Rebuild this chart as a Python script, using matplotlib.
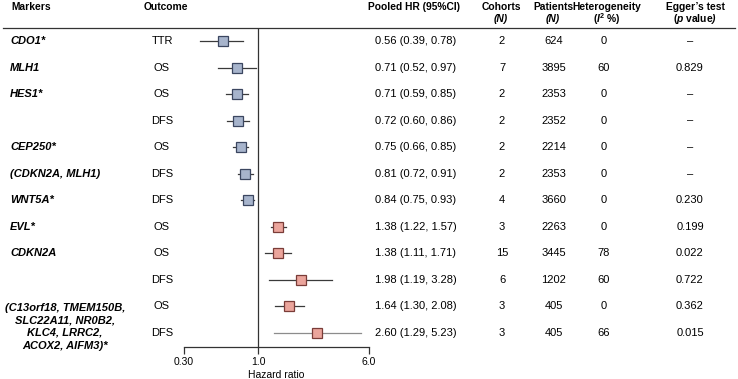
import numpy as np
import matplotlib
matplotlib.use('Agg')
import matplotlib.pyplot as plt
from matplotlib.lines import Line2D
from matplotlib.transforms import blended_transform_factory

plt.rcParams['font.family'] = ['Liberation Sans', 'DejaVu Sans']
plt.rcParams['mathtext.fontset'] = 'custom'
plt.rcParams['mathtext.rm'] = 'Liberation Sans'
plt.rcParams['mathtext.it'] = 'Liberation Sans:italic'
plt.rcParams['mathtext.bf'] = 'Liberation Sans:bold'
plt.rcParams['mathtext.bfit'] = 'Liberation Sans:italic:bold'

markers = ['CDO1*', 'MLH1', 'HES1*', '', 'CEP250*', '(CDKN2A, MLH1)', 'WNT5A*', 'EVL*',
           'CDKN2A', '', '(C13orf18, TMEM150B,\nSLC22A11, NR0B2,\nKLC4, LRRC2,\nACOX2, AIFM3)*', '']
outcomes = ['TTR', 'OS', 'OS', 'DFS', 'OS', 'DFS', 'DFS', 'OS', 'OS', 'DFS', 'OS', 'DFS']
hr = [0.56, 0.71, 0.71, 0.72, 0.75, 0.81, 0.84, 1.38, 1.38, 1.98, 1.64, 2.60]
lo = [0.39, 0.52, 0.59, 0.60, 0.66, 0.72, 0.75, 1.22, 1.11, 1.19, 1.30, 1.29]
hi = [0.78, 0.97, 0.85, 0.86, 0.85, 0.91, 0.93, 1.57, 1.71, 3.28, 2.08, 5.23]
cohorts = [2, 7, 2, 2, 2, 2, 4, 3, 15, 6, 3, 3]
patients = [624, 3895, 2353, 2352, 2214, 2353, 3660, 2263, 3445, 1202, 405, 405]
i2 = [0, 60, 0, 0, 0, 0, 0, 0, 78, 60, 0, 66]
egger = ['–', '0.829', '–', '–', '–', '–', '0.230', '0.199', '0.022', '0.722', '0.362', '0.015']
xticks = [0.30, 1.0, 6.0]
xticklabels = ['0.30', '1.0', '6.0']

W, H = 738, 379
fig = plt.figure(figsize=(W / 100, H / 100), dpi=100)
ax = fig.add_axes([184 / W, 1 - 347 / H, (369 - 184) / W, (347 - 28) / H])

n = len(hr)
rows = np.arange(n)
ax.set_xscale('log')
ax.set_xlim(0.30, 6.0)
ax.set_ylim(11.53, -0.49)

for i in rows:
    up = hr[i] > 1
    lc = '#8c8c8c' if i == n - 1 else '#3a3a3a'
    ax.plot([lo[i], hi[i]], [i, i], color=lc, lw=0.9, zorder=2)
    ax.plot(hr[i], i, marker='s', ms=6.6, mew=0.9,
            mfc='#eba59c' if up else '#a7b4cc',
            mec='#7a3c38' if up else '#3b4660', zorder=3)

ax.axvline(1.0, color='#333333', lw=0.9, zorder=1)
for s in ['left', 'top', 'right']:
    ax.spines[s].set_visible(False)
ax.spines['bottom'].set_color('#333333')
ax.spines['bottom'].set_linewidth(0.9)
ax.set_yticks([])
ax.set_xticks(xticks)
ax.set_xticklabels(xticklabels)
ax.xaxis.set_minor_locator(matplotlib.ticker.NullLocator())
ax.tick_params(axis='x', length=5, width=0.9, color='#333333', labelsize=7.5, pad=2)
ax.set_xlabel('Hazard ratio', fontsize=7.5, labelpad=2)

# table text columns: x in figure fraction, y in row units
tr = blended_transform_factory(fig.transFigure, ax.transData)
fs = 8
for i in rows:
    if markers[i] and '\n' not in markers[i]:
        ax.text(10 / W, i, markers[i], transform=tr, fontsize=fs, fontweight='bold',
                style='italic', va='center', ha='left')
    ax.text(162 / W, i, outcomes[i], transform=tr, fontsize=fs, va='center', ha='center')
    ax.text(416 / W, i, f'{hr[i]:.2f} ({lo[i]:.2f}, {hi[i]:.2f})', transform=tr,
            fontsize=fs, va='center', ha='center')
    ax.text(502 / W, i, str(cohorts[i]), transform=tr, fontsize=fs, va='center', ha='center')
    ax.text(554 / W, i, str(patients[i]), transform=tr, fontsize=fs, va='center', ha='center')
    ax.text(604 / W, i, str(i2[i]), transform=tr, fontsize=fs, va='center', ha='center')
    ax.text(690 / W, i, egger[i], transform=tr, fontsize=fs, va='center', ha='center')

ax.text(65 / W, 10 - 0.14, markers[10], transform=tr, fontsize=fs, fontweight='bold',
        style='italic', va='top', ha='center', multialignment='center', linespacing=1.33)

# header
hy1 = 1 - 7 / H
hy2 = 1 - 19 / H
hkw = dict(fontsize=7.4, fontweight='bold', va='center')
fig.text(11 / W, hy1, 'Markers', ha='left', **hkw)
fig.text(166 / W, hy1, 'Outcome', ha='center', **hkw)
fig.text(414 / W, hy1, 'Pooled HR (95%CI)', ha='center', **hkw)
fig.text(501 / W, hy1, 'Cohorts', ha='center', **hkw)
fig.text(501 / W, hy2, '(N)', ha='center', style='italic', **hkw)
fig.text(553 / W, hy1, 'Patients', ha='center', **hkw)
fig.text(553 / W, hy2, '(N)', ha='center', style='italic', **hkw)
fig.text(607 / W, hy1, 'Heterogeneity', ha='center', **hkw)
fig.text(607 / W, hy2, r'($\mathbfit{I}^{\mathbf{2}}$ %)', ha='center', **hkw)
fig.text(695 / W, hy1, 'Egger’s test', ha='center', **hkw)
fig.text(695 / W, hy2, r'($\mathbfit{p}$ value$\mathbfit{)}$', ha='center', **hkw)
fig.add_artist(Line2D([3 / W, 735 / W], [1 - 28 / H, 1 - 28 / H], color='#333333', lw=0.9))

fig.savefig('out.png', dpi=100)
